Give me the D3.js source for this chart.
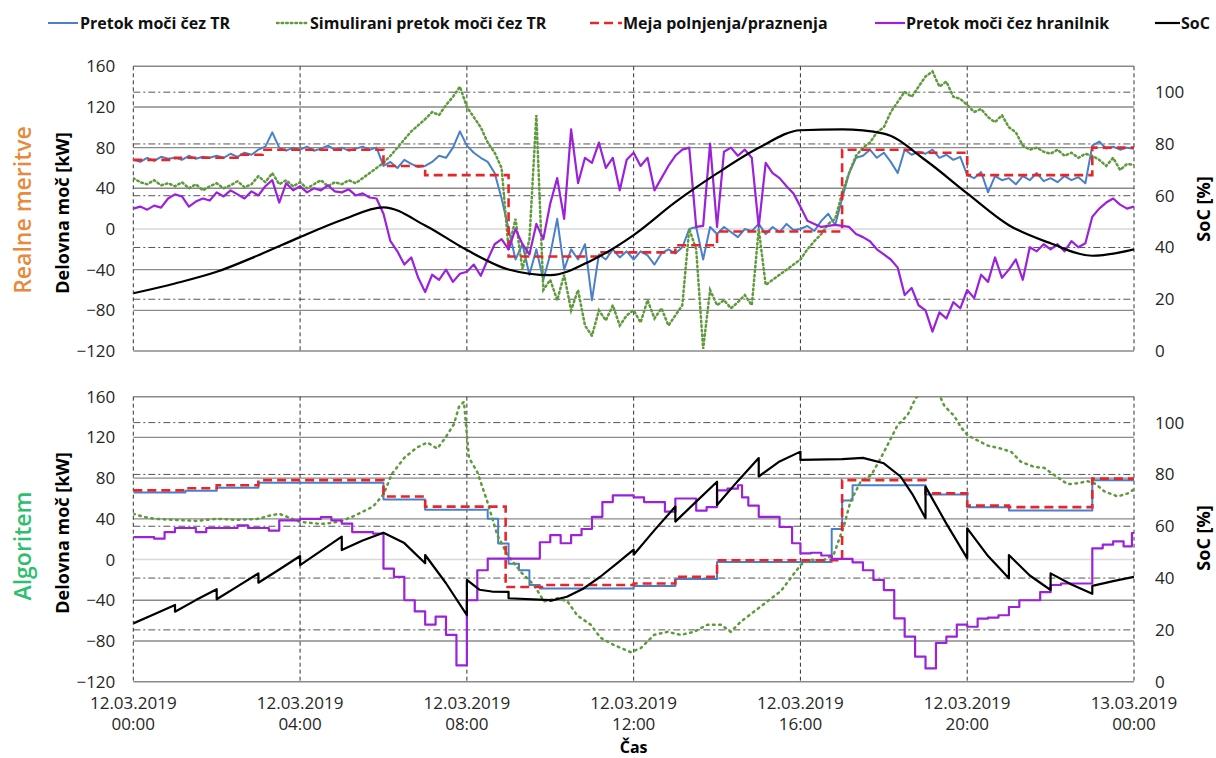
<!DOCTYPE html>
<html><head><meta charset="utf-8">
<script src="https://cdn.jsdelivr.net/npm/d3@7"></script>
<style>
body{margin:0;background:#fff}
svg{display:block}
text{font-family:"Open Sans",sans-serif}
</style>
</head><body>
<svg id="c" width="1216" height="758"></svg>
<script>
// ---------------- DATA ----------------
const hourTicks = [0,4,8,12,16,20,24];
const dateLabels = ["12.03.2019","12.03.2019","12.03.2019","12.03.2019","12.03.2019","12.03.2019","13.03.2019"];
const timeLabels = ["00:00","04:00","08:00","12:00","16:00","20:00","00:00"];
const powerTicks = [-120,-80,-40,0,40,80,120,160];
const socTicks = [0,20,40,60,80,100];
const seriesNames = ["Pretok moči čez TR","Simulirani pretok moči čez TR","Meja polnjenja/praznenja","Pretok moči čez hranilnik","SoC"];
const panelNames = ["Realne meritve","Algoritem"];

// Top panel (real measurements), 10-minute samples from 00:00 to 24:00
const realTR = [
 68,66,70,67,71,69, 70,68,72,69,71,70, 72,70,74,71,75,73, 78,81,95,80,77,80,
 78,81,77,79,82,78, 80,77,79,81,78,80, 62,66,60,68,64,61, 62,66,72,70,80,96,
 82,75,70,66,55,30, 0,-30,-15,-45,-20,-50, -25,10,-40,-20,-30,-15, -70,-25,-30,-20,-28,-22,
 -30,-22,-26,-35,-24,-20, -24,-18,0,2,-30,2, -5,2,-3,-8,0,-2, 5,-5,2,-3,5,-1,
 0,3,-2,8,15,4, 30,55,70,72,78,70, 75,66,55,78,73,76, 74,78,70,73,68,71,
 53,50,56,36,52,48, 50,44,52,48,55,47, 50,46,52,48,51,45, 82,86,79,81,78,80, 79];
const realSim = [
 50,46,44,48,43,45, 42,46,40,44,38,42, 45,40,43,47,41,44, 52,46,55,44,48,42,
 46,40,44,48,42,46, 44,48,45,50,55,60, 65,72,80,88,96,102, 108,115,112,122,130,140,
 120,110,100,85,75,60, -20,10,-40,-10,112,-60, -50,-70,-45,-80,-60,-95, -105,-80,-90,-75,-95,-85,
 -80,-92,-70,-88,-78,-95, -85,-75,0,-20,-118,-60, -75,-70,-78,-72,-65,-75, 0,-55,-50,-45,-40,-35,
 -30,-20,-12,-5,5,10, 35,55,72,80,85,95, 100,115,125,135,130,140, 150,155,140,145,130,128,
 122,115,118,110,105,112, 100,95,82,78,80,76, 74,78,72,75,70,74, 72,68,62,70,58,64, 63];
const realBat = [
 20,22,19,23,21,30, 34,32,22,27,30,28, 36,32,38,34,30,37, 33,42,48,26,45,38,
 42,36,40,38,43,37, 36,39,33,35,31,30, 15,-12,-22,-35,-28,-48, -62,-45,-50,-40,-52,-44,
 -42,-35,-46,-30,-15,-10, -20,0,-15,-25,5,-10, 25,50,10,98,45,70, 65,85,60,70,38,68,
 75,62,70,38,50,62, 72,78,80,2,3,84, 2,76,80,72,78,70, 2,65,55,50,42,35,
 22,8,5,2,3,4, 3,2,-5,-8,-12,-20, -25,-30,-38,-65,-58,-75, -80,-101,-82,-88,-72,-78,
 -60,-68,-45,-52,-28,-48, -40,-30,-50,-18,-22,-15, -20,-15,-22,-12,-18,-14, 12,20,26,30,24,20, 22];
const realLimitT = [0,1,2.5,3.1,6,7,9,11.2,13,14,17,18.7,20,23,24];
const realLimitV = [68,70,73,78,62,53,-27,-23,-16,-2.4,78,75,53,80,80];
const realSocT = [0,1,2,3,4,5,6,7,8,9,10,11,12,13,14,15,16,17,18,19,20,21,22,23,24];
const realSocV = [22.3,26.1,30.6,37,44,50.6,55.5,48.5,39,31.5,29.3,35.1,44.8,57.5,68.6,78.5,85.3,85.6,84,73.7,60.9,48.6,41.6,36.8,39.3];

// Bottom panel (algorithm)
const algTRT = [0,1.25,2,3,6,7,8.5,8.75,9,9.25,9.5,9.75,12,13,14,16.75,17,17.25,19,20,21,23,24];
const algTRV = [66,67.5,70.5,75.5,59,49,40,15.7,-4,-10.5,-25,-28.4,-26,-19,-2.5,30,58,73,64,51.5,48.3,78,78];
const algLimitT = [0,1.25,2,3,6,7,8.93,9.9,12,13,14,17,19,20,21,23,24];
const algLimitV = [68,70,73,78,62,52,-27,-25,-23.5,-17,-0.7,78,65,53,51.5,79.5,79.5];
const algBatT = [0,0.5,0.75,1,1.5,1.75,2.5,2.75,3.25,3.5,4,4.5,4.75,5,5.25,5.75,6,6.25,6.5,6.75,7,7.25,7.5,7.75,8,8.25,8.5,9.75,10,10.25,10.5,10.75,11,11.25,11.5,12,12.25,12.75,13,13.5,13.75,14,14.25,14.5,14.6,14.75,15,15.5,15.8,16,16.25,16.5,16.75,17.25,17.5,17.75,18,18.25,18.5,18.75,19,19.25,19.5,19.75,20,20.25,20.5,20.75,21,21.25,21.75,22,22.25,23,23.25,23.5,23.75,23.95,24];
const algBatV = [22,20.5,27,31,27,31,33.5,31,28.5,38.5,40,41.8,38.5,35.3,27,25.5,-9,-17,-40,-51,-64,-56,-74,-104,-40,-10.5,1,17,24,16,24,30,42,56.5,63,61,56.5,47,60,48,51.6,68,69.6,73,61,53,42,32,16,6,6.7,4,0.6,-2.7,-10.5,-20,-30,-57.8,-75.8,-95.4,-107,-82,-75.8,-64,-66,-58,-57,-54.7,-46.6,-40,-32,-25,-23.5,11,14.6,17.9,13,26,26];
const algSimT = [0,0.25,0.5,1,1.5,2,2.5,3,3.25,3.5,3.75,4,4.5,4.75,5,5.25,5.5,5.75,6,6.2,6.5,6.8,7.05,7.29,7.49,7.69,7.81,7.93,8.05,8.25,8.49,8.73,8.97,9.29,9.61,9.85,10.17,10.41,10.65,10.97,11.21,11.53,11.93,12.17,12.49,12.81,13.13,13.45,13.77,14.09,14.33,14.57,14.89,15.21,15.53,15.77,16.01,16.25,16.5,16.8,17.05,17.2,17.45,17.7,17.93,18.17,18.33,18.57,18.77,19,19.3,19.45,19.69,19.85,20.01,20.25,20.49,20.81,21.05,21.29,21.61,21.85,22.09,22.41,22.65,22.89,23.05,23.29,23.61,23.85,24];
const algSimV = [45,42,40,39,38,40,39,40,43,45,41,37,35,36,38,42,47,52,64,84,100,110,115,109,120,133,150,155,100,86,57,24,5,-12,-25,-41,-38,-41,-55,-64,-77,-84,-91,-87,-74,-71,-74,-71,-64,-64,-71,-61,-51,-41,-31,-18,-5,0,-2,5,34,57,77,83,100,119,132,142,159,165,165,151,141,130,122,117,112,109,106,96,91,90,83,74,75,77,75,67,62,65,69];
const algSocT = [0,0.5,1,1,1.5,2,2,2.5,3,3,3.5,4,4,4.5,5,5,5.5,6,6.5,7,7,7.5,8,8,8.3,8.6,9,9,10,10,10.4,10.8,11.2,11.6,12,12,12.5,13,13,13.5,14,14,14.5,15,15,15.5,16,16,17,17.5,18,18.4,18.7,19,19,19.5,20,20,20.5,21,21,21.5,22,22,22.5,23,23,23.5,24];
const algSocV = [22.5,26,29.6,27,31.5,35.7,31.8,36.8,41.8,38.2,43.3,48.5,45,50.5,56,50.8,54.5,57.5,53.5,45.7,48.9,38,25.7,39.3,35.5,34.8,34.7,32.2,31.5,31.2,32.8,36,40.5,45.7,51,49,58.5,67.6,61.8,69.5,77.2,68.2,77.5,86.3,79.2,85,88.8,85.6,85.9,86.4,84.3,79.2,72,63.1,75.3,61,47.6,59.2,48.5,39.9,48.9,41,35.4,41.8,37.5,33.9,37,38.8,40.5];

// ---------------- STYLE ----------------
const C = {tr:"#4a7fcb", sim:"#5f9a3c", lim:"#e8262a", bat:"#9b22d8", soc:"#000000"};

const svg = d3.select("#c");
const x = d3.scaleLinear().domain([0,24]).range([133.3,1134]);
const zip = (t,v)=>t.map((h,i)=>[h,v[i]]);
const sampled = v=>v.map((d,i)=>[i/6,d]);

const panels = [
 {top:66.3,bottom:351,label:panelNames[0],color:"#e8893c",labelY:210,titleY:213,socY:209,
  tr:sampled(realTR), sim:sampled(realSim), bat:sampled(realBat),
  lim:zip(realLimitT,realLimitV), soc:zip(realSocT,realSocV), socCurve:d3.curveMonotoneX,
  trCurve:d3.curveLinear, simDash:"1.6,3", simW:2.5},
 {top:396.7,bottom:681.7,label:panelNames[1],color:"#2fbe6e",labelY:546,titleY:533,socY:538,
  tr:zip(algTRT,algTRV), sim:zip(algSimT,algSimV), bat:zip(algBatT,algBatV),
  lim:zip(algLimitT,algLimitV), soc:zip(algSocT,algSocV), socCurve:d3.curveLinear,
  trCurve:d3.curveStepAfter, simDash:"1.6,4.6", simW:2.5}
];

panels.forEach((p,pi)=>{
  const yP = d3.scaleLinear().domain([-120,160]).range([p.bottom,p.top]);
  const yS = d3.scaleLinear().domain([0,110]).range([p.bottom,p.top]);
  const g = svg.append("g");
  const cid = "clip"+pi;
  svg.append("clipPath").attr("id",cid).append("rect")
    .attr("x",x(0)).attr("y",p.top).attr("width",x(24)-x(0)).attr("height",p.bottom-p.top);

  // grid
  g.selectAll(".hg").data(powerTicks).join("line")
    .attr("x1",x(0)).attr("x2",x(24)).attr("y1",d=>yP(d)).attr("y2",d=>yP(d))
    .attr("stroke",d=>d===0?"#d9d9d9":"#8a8a8a").attr("stroke-width",1.4);
  g.selectAll(".sg").data(socTicks.filter(d=>d>0)).join("line")
    .attr("x1",x(0)).attr("x2",x(24)).attr("y1",d=>yS(d)).attr("y2",d=>yS(d))
    .attr("stroke","#555").attr("stroke-width",1).attr("stroke-dasharray","7,3,2,3");
  g.selectAll(".vg").data(hourTicks).join("line")
    .attr("x1",d=>x(d)).attr("x2",d=>x(d)).attr("y1",p.top).attr("y2",p.bottom)
    .attr("stroke","#333").attr("stroke-width",1).attr("stroke-dasharray","4,3");

  const lg = g.append("g").attr("clip-path",`url(#${cid})`);
  const lineP = c=>d3.line().curve(c).x(d=>x(d[0])).y(d=>yP(d[1]));
  lg.append("path").attr("d",lineP(p.trCurve)(p.tr)).attr("fill","none")
    .attr("stroke",C.tr).attr("stroke-width",2).attr("stroke-linejoin","round");
  lg.append("path").attr("d",lineP(d3.curveLinear)(p.sim)).attr("fill","none")
    .attr("stroke",C.sim).attr("stroke-width",p.simW).attr("stroke-dasharray",p.simDash)
    .attr("stroke-linecap","round");
  lg.append("path").attr("d",lineP(d3.curveStepAfter)(p.lim)).attr("fill","none")
    .attr("stroke",C.lim).attr("stroke-width",2.6).attr("stroke-dasharray","9,5");
  lg.append("path").attr("d",lineP(p.trCurve)(p.bat)).attr("fill","none")
    .attr("stroke",C.bat).attr("stroke-width",2.2).attr("stroke-linejoin","round");
  lg.append("path").attr("d",d3.line().curve(p.socCurve).x(d=>x(d[0])).y(d=>yS(d[1]))(p.soc))
    .attr("fill","none").attr("stroke",C.soc).attr("stroke-width",2.2).attr("stroke-linejoin","round");

  // axes
  const ax = g.append("g").attr("transform",`translate(${x(0)},0)`)
    .call(d3.axisLeft(yP).tickValues(powerTicks).tickSize(0).tickPadding(18));
  ax.select(".domain").remove();
  ax.selectAll("text").attr("font-size",17).attr("fill","#262626").attr("font-family","Open Sans");
  const ar = g.append("g").attr("transform",`translate(${x(24)},0)`)
    .call(d3.axisRight(yS).tickValues(socTicks).tickSize(0).tickPadding(21));
  ar.select(".domain").remove();
  ar.selectAll("text").attr("font-size",17).attr("fill","#262626").attr("font-family","Open Sans");

  g.append("text").attr("transform",`translate(62,${p.titleY}) rotate(-90)`)
    .attr("text-anchor","middle").attr("dominant-baseline","central")
    .attr("font-size",18).attr("font-weight",700).attr("fill","#000").text("Delovna moč [kW]");
  g.append("text").attr("transform",`translate(1203,${p.socY}) rotate(-90)`)
    .attr("text-anchor","middle").attr("dominant-baseline","central")
    .attr("font-size",18).attr("font-weight",700).attr("fill","#000").text("SoC [%]");
  g.append("text").attr("transform",`translate(22,${p.labelY}) rotate(-90)`)
    .attr("text-anchor","middle").attr("dominant-baseline","central")
    .attr("font-size",23).attr("font-weight",600).attr("fill",p.color).text(p.label);
});

// x labels
const xl = svg.append("g");
xl.selectAll(".d").data(hourTicks).join("text")
  .attr("x",d=>x(d)).attr("y",702).attr("text-anchor","middle").attr("dominant-baseline","central")
  .attr("font-size",17).attr("fill","#262626").text((d,i)=>dateLabels[i]);
xl.selectAll(".t").data(hourTicks).join("text")
  .attr("x",d=>x(d)).attr("y",723).attr("text-anchor","middle").attr("dominant-baseline","central")
  .attr("font-size",17).attr("fill","#262626").text((d,i)=>timeLabels[i]);
svg.append("text").attr("x",x(12)).attr("y",753).attr("text-anchor","middle")
  .attr("font-size",16).attr("font-weight",700).attr("fill","#000").text("Čas");

// legend
const legend = [
 {x1:48,x2:78,tx:80,color:C.tr,dash:null,w:2},
 {x1:277,x2:308,tx:310,color:C.sim,dash:"1.6,3",w:2.4},
 {x1:590,x2:622,tx:623,color:C.lim,dash:"9,5",w:2.6},
 {x1:875,x2:905,tx:906,color:C.bat,dash:null,w:2.2},
 {x1:1155,x2:1180,tx:1181,color:C.soc,dash:null,w:2.2}
];
const lgd = svg.append("g");
legend.forEach((l,i)=>{
  lgd.append("line").attr("x1",l.x1).attr("x2",l.x2).attr("y1",23).attr("y2",23)
    .attr("stroke",l.color).attr("stroke-width",l.w).attr("stroke-dasharray",l.dash)
    .attr("stroke-linecap",l.dash && l.dash.startsWith("1.6")?"round":"butt");
  lgd.append("text").attr("x",l.tx).attr("y",23).attr("dominant-baseline","central")
    .attr("font-size",16).attr("font-weight",700).attr("fill","#111").text(seriesNames[i]);
});
</script>
</body></html>
